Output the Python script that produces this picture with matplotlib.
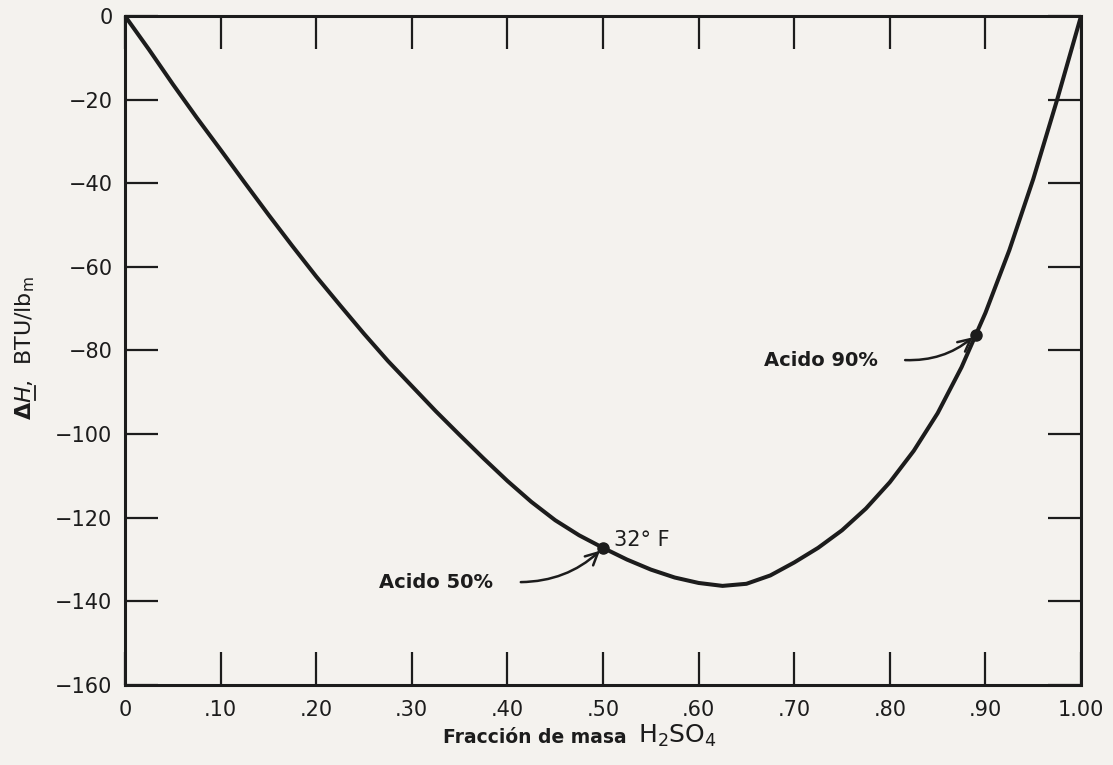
import matplotlib
matplotlib.use("Agg")
from matplotlib import pyplot as plt
from matplotlib.lines import Line2D
from matplotlib.transforms import IdentityTransform

# valores
fraccion = [0, 0.025, 0.05, 0.075, 0.10, 0.125, 0.15, 0.175, 0.20, 0.225, 0.25,
            0.275, 0.30, 0.325, 0.35, 0.375, 0.40, 0.425, 0.45, 0.475, 0.50,
            0.525, 0.55, 0.575, 0.60, 0.625, 0.65, 0.675, 0.70, 0.725, 0.75,
            0.775, 0.80, 0.825, 0.85, 0.875, 0.89, 0.90, 0.925, 0.95, 0.975, 1.00]
delta_h = [0, -8, -16.3, -24.3, -32, -39.8, -47.5, -55, -62.3, -69.2, -76,
           -82.5, -88.5, -94.5, -100.2, -105.8, -111.2, -116.2, -120.6, -124.2, -127.2,
           -130, -132.4, -134.3, -135.6, -136.3, -135.8, -133.8, -130.7, -127.2, -123,
           -117.8, -111.5, -104, -95, -84, -76.2, -71, -56, -39, -20, 0]
puntos_x = [0.50, 0.89]
puntos_y = [-127.2, -76.2]
xticks = [0, 0.1, 0.2, 0.3, 0.4, 0.5, 0.6, 0.7, 0.8, 0.9, 1.0]
xlabels = ["0", ".10", ".20", ".30", ".40", ".50", ".60", ".70", ".80", ".90", "1.00"]
yticks = [0, -20, -40, -60, -80, -100, -120, -140, -160]

negro = "#1c1c1c"
papel = "#f4f2ee"

plt.rcParams["font.family"] = ["DejaVu Sans"]

fig = plt.figure(figsize=(11.13, 7.65), dpi=100, facecolor=papel)
ax = fig.add_axes([0.1123, 0.1046, 0.8590, 0.8745], facecolor=papel)

ax.plot(fraccion, delta_h, color=negro, lw=2.9, solid_joinstyle="round", solid_capstyle="round")
ax.plot(puntos_x, puntos_y, "o", color=negro, ms=8)

ax.set_xlim(0, 1.0)
ax.set_ylim(-160, 0)
ax.set_xticks(xticks)
ax.set_xticklabels(xlabels)
ax.set_yticks(yticks)
ax.set_yticklabels([str(v).replace("-", "\u2212") for v in yticks])

ax.tick_params(direction="in", length=24, width=1.6, color=negro,
               top=True, right=True, labelsize=15, labelcolor=negro)
ax.tick_params(axis="y", pad=9)
ax.tick_params(axis="x", pad=11)
for s in ax.spines.values():
    s.set_linewidth(2.2)
    s.set_color(negro)

# etiqueta del eje y, con la H subrayada
yl_x, yl_y = 31, 345  # pixeles
tam = 16
etiqueta = r"$\mathbf{\Delta}\mathit{H}$,  BTU/lb$_\mathrm{m}$"
fig.text(yl_x / 1113, yl_y / 765, etiqueta, rotation=90, rotation_mode="anchor",
         ha="left", va="baseline", fontsize=tam, color=negro)
rend = fig.canvas.get_renderer()
m1 = fig.text(0, 0, r"$\mathbf{\Delta}$", fontsize=tam)
m2 = fig.text(0, 0, r"$\mathbf{\Delta}\mathit{H}$", fontsize=tam)
w1 = m1.get_window_extent(rend).width
w2 = m2.get_window_extent(rend).width
m1.remove()
m2.remove()
fig.add_artist(Line2D([yl_x + 3.5, yl_x + 3.5], [yl_y + w1 + 1, yl_y + w2 - 1],
                      transform=IdentityTransform(), color=negro, lw=1.3))

# etiqueta del eje x
ax.text(0.3326, -0.0867, "Fracción de masa", transform=ax.transAxes, ha="left", va="baseline",
        fontsize=13.5, fontweight="bold", color=negro)
ax.text(0.5366, -0.0867, "H$_2$SO$_4$", transform=ax.transAxes, ha="left", va="baseline",
        fontsize=18, color=negro)

# anotaciones
ax.text(0.5115, -125.4, "32° F", fontsize=15, color=negro, ha="left", va="center")
ax.text(0.3257, -135.4, "Acido 50%", fontsize=14, fontweight="bold",
        color=negro, ha="center", va="center")
ax.text(0.7276, -82.3, "Acido 90%", fontsize=14, fontweight="bold",
        color=negro, ha="center", va="center")
ax.annotate("", xy=(puntos_x[0], puntos_y[0]), xytext=(0.414, -135.4),
            arrowprops=dict(arrowstyle="->", color=negro, lw=1.8, shrinkA=0, shrinkB=3,
                            connectionstyle="arc3,rad=0.2", mutation_scale=22))
ax.annotate("", xy=(puntos_x[1], puntos_y[1]), xytext=(0.816, -82.3),
            arrowprops=dict(arrowstyle="->", color=negro, lw=1.8, shrinkA=0, shrinkB=3,
                            connectionstyle="arc3,rad=0.2", mutation_scale=22))

fig.savefig("out.png", dpi=100, facecolor=papel)
